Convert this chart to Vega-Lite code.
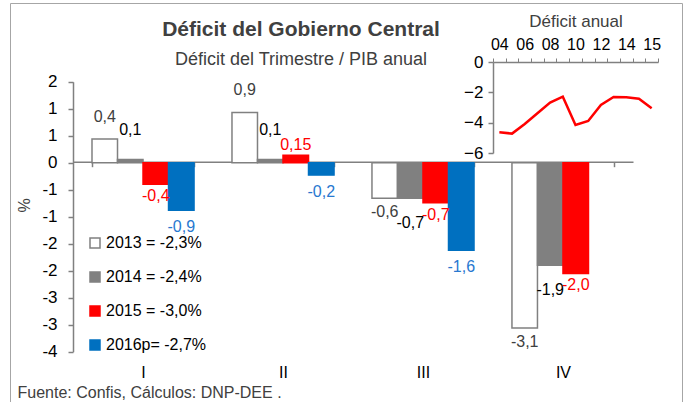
{
  "$schema": "https://vega.github.io/schema/vega-lite/v6.json",
  "autosize": {"type": "none"},
  "width": 672,
  "height": 400,
  "padding": {"left": 10, "top": 3, "right": 4, "bottom": 0},
  "background": "white",
  "config": {
    "font": "Liberation Sans",
    "view": {"stroke": "#A6A6A6", "strokeWidth": 1},
    "text": {"fontSize": 16, "baseline": "middle"}
  },
  "title": {
    "text": "Déficit del Gobierno Central",
    "subtitle": "Déficit del Trimestre / PIB anual",
    "fontSize": 21,
    "fontWeight": "bold",
    "color": "#404040",
    "subtitleFontSize": 18,
    "subtitleColor": "#404040",
    "subtitlePadding": 11,
    "anchor": "middle",
    "frame": "group",
    "dx": -45,
    "offset": -66
  },
  "datasets": {
    "bars": [
      {"trimestre": "I", "serie": "2013 = -2,3%", "valor": 0.44, "etiqueta": "0,4"},
      {"trimestre": "I", "serie": "2014 = -2,4%", "valor": 0.06, "etiqueta": "0,1"},
      {"trimestre": "I", "serie": "2015 = -3,0%", "valor": -0.40, "etiqueta": "-0,4"},
      {"trimestre": "I", "serie": "2016p= -2,7%", "valor": -0.88, "etiqueta": "-0,9"},
      {"trimestre": "II", "serie": "2013 = -2,3%", "valor": 0.93, "etiqueta": "0,9"},
      {"trimestre": "II", "serie": "2014 = -2,4%", "valor": 0.06, "etiqueta": "0,1"},
      {"trimestre": "II", "serie": "2015 = -3,0%", "valor": 0.14, "etiqueta": "0,15"},
      {"trimestre": "II", "serie": "2016p= -2,7%", "valor": -0.23, "etiqueta": "-0,2"},
      {"trimestre": "III", "serie": "2013 = -2,3%", "valor": -0.66, "etiqueta": "-0,6"},
      {"trimestre": "III", "serie": "2014 = -2,4%", "valor": -0.66, "etiqueta": "-0,7"},
      {"trimestre": "III", "serie": "2015 = -3,0%", "valor": -0.74, "etiqueta": "-0,7"},
      {"trimestre": "III", "serie": "2016p= -2,7%", "valor": -1.62, "etiqueta": "-1,6"},
      {"trimestre": "IV", "serie": "2013 = -2,3%", "valor": -3.06, "etiqueta": "-3,1"},
      {"trimestre": "IV", "serie": "2014 = -2,4%", "valor": -1.90, "etiqueta": "-1,9"},
      {"trimestre": "IV", "serie": "2015 = -3,0%", "valor": -2.05, "etiqueta": "-2,0"}
    ],
    "anual": [
      {"anio": 2003, "deficit": -4.63},
      {"anio": 2004, "deficit": -4.72},
      {"anio": 2005, "deficit": -4.09},
      {"anio": 2006, "deficit": -3.38},
      {"anio": 2007, "deficit": -2.68},
      {"anio": 2008, "deficit": -2.29},
      {"anio": 2009, "deficit": -4.15},
      {"anio": 2010, "deficit": -3.89},
      {"anio": 2011, "deficit": -2.83},
      {"anio": 2012, "deficit": -2.31},
      {"anio": 2013, "deficit": -2.33},
      {"anio": 2014, "deficit": -2.42},
      {"anio": 2015, "deficit": -3.05}
    ]
  },
  "layer": [
    {
      "data": {"name": "bars"},
      "encoding": {
        "x": {
          "field": "trimestre",
          "type": "nominal",
          "sort": ["I", "II", "III", "IV"],
          "scale": {"range": [63, 623], "paddingInner": 0.271, "paddingOuter": 0.1357},
          "axis": {
            "orient": "bottom",
            "offset": -241.3,
            "labelAngle": 0,
            "labelFontSize": 16,
            "labelColor": "#000000",
            "labelPadding": 198,
            "domainColor": "#808080",
            "domainWidth": 1.5,
            "tickColor": "#808080",
            "tickWidth": 1.5,
            "tickSize": 5,
            "tickBand": "extent",
            "grid": false,
            "title": "Fuente: Confis, Cálculos: DNP-DEE .",
            "titleFontSize": 16,
            "titleFontWeight": "normal",
            "titleColor": "#404040",
            "titleX": 7,
            "titleY": 236,
            "titleAlign": "left",
            "titleBaseline": "alphabetic"
          }
        },
        "xOffset": {
          "field": "serie",
          "type": "nominal",
          "scale": {"paddingInner": 0, "paddingOuter": 0}
        },
        "y": {
          "field": "valor",
          "type": "quantitative",
          "scale": {"domain": [-3.5, 1.5], "range": [348.7, 78.7], "nice": false, "zero": false},
          "axis": {
            "orient": "left",
            "offset": -63,
            "values": [-3.5, -3, -2.5, -2, -1.5, -1, -0.5, 0, 0.5, 1, 1.5],
            "labelExpr": "datum.value < 0 ? '-' + round(-datum.value) : '' + round(datum.value)",
            "labelFontSize": 17,
            "labelColor": "#000000",
            "labelPadding": 11,
            "domainColor": "#808080",
            "domainWidth": 1.5,
            "tickColor": "#808080",
            "tickWidth": 1.5,
            "tickSize": 5,
            "grid": false,
            "title": "%",
            "titleFontSize": 16,
            "titleFontWeight": "normal",
            "titleColor": "#404040",
            "titleX": -41,
            "titleY": 202,
            "titleAngle": -90
          }
        },
        "text": {"field": "etiqueta", "type": "nominal"},
        "color": {
          "field": "serie",
          "type": "nominal",
          "scale": {
            "domain": ["2013 = -2,3%", "2014 = -2,4%", "2015 = -3,0%", "2016p= -2,7%"],
            "range": ["#404040", "#000000", "#FF0000", "#2878D0"]
          },
          "legend": null
        }
      },
      "layer": [
        {
          "mark": {"type": "bar", "strokeWidth": 1.5},
          "encoding": {
            "color": null,
            "text": null,
            "fill": {
              "field": "serie",
              "type": "nominal",
              "scale": {
                "domain": ["2013 = -2,3%", "2014 = -2,4%", "2015 = -3,0%", "2016p= -2,7%"],
                "range": ["#FFFFFF", "#808080", "#FF0000", "#0070C0"]
              },
              "legend": {
                "orient": "none",
                "legendX": 77,
                "legendY": 232,
                "title": null,
                "padding": 0,
                "symbolType": "square",
                "symbolSize": 100,
                "symbolStrokeWidth": 1.5,
                "labelFontSize": 16,
                "labelColor": "#000000",
                "labelOffset": 3,
                "rowPadding": 18
              }
            },
            "stroke": {
              "field": "serie",
              "type": "nominal",
              "scale": {
                "domain": ["2013 = -2,3%", "2014 = -2,4%", "2015 = -3,0%", "2016p= -2,7%"],
                "range": ["#808080", "#808080", "#FF0000", "#0070C0"]
              },
              "legend": {
                "orient": "none",
                "legendX": 77,
                "legendY": 232,
                "title": null,
                "padding": 0,
                "symbolType": "square",
                "symbolSize": 100,
                "symbolStrokeWidth": 1.5,
                "labelFontSize": 16,
                "labelColor": "#000000",
                "labelOffset": 3,
                "rowPadding": 18
              }
            }
          }
        },
        {
          "transform": [{"filter": "datum.serie == '2013 = -2,3%' && datum.valor >= 0"}],
          "mark": {"type": "text", "dy": -22}
        },
        {
          "transform": [{"filter": "datum.serie == '2013 = -2,3%' && datum.valor < 0"}],
          "mark": {"type": "text", "dy": 14}
        },
        {
          "transform": [{"filter": "datum.serie == '2014 = -2,4%' && datum.valor >= 0"}],
          "mark": {"type": "text", "dy": -29}
        },
        {
          "transform": [{"filter": "datum.serie == '2014 = -2,4%' && datum.valor < 0"}],
          "mark": {"type": "text", "dy": 25}
        },
        {
          "transform": [{"filter": "datum.serie == '2015 = -3,0%' && datum.valor >= 0"}],
          "mark": {"type": "text", "dy": -10}
        },
        {
          "transform": [{"filter": "datum.serie == '2015 = -3,0%' && datum.valor < 0"}],
          "mark": {"type": "text", "dy": 12}
        },
        {
          "transform": [{"filter": "datum.serie == '2016p= -2,7%'"}],
          "mark": {"type": "text", "dy": 17}
        }
      ]
    },
    {
      "data": {"name": "anual"},
      "mark": {"type": "line", "color": "#FF0000", "strokeWidth": 2.5},
      "encoding": {
        "x": {
          "field": "anio",
          "type": "ordinal",
          "scale": {"type": "band", "range": [483, 648], "paddingInner": 0, "paddingOuter": 0},
          "axis": {
            "orient": "top",
            "offset": -59,
            "labelAngle": 0,
            "labelExpr": "datum.value == 2015 ? '15' : (datum.value % 2 == 1 ? slice('0' + (datum.value - 1999), -2) : '')",
            "labelFontSize": 16,
            "labelColor": "#000000",
            "labelPadding": 6,
            "domainColor": "#808080",
            "domainWidth": 1.5,
            "tickColor": "#808080",
            "tickWidth": 1,
            "tickSize": 4,
            "tickBand": "extent",
            "grid": false,
            "title": "Déficit anual",
            "titleFontSize": 17,
            "titleFontWeight": "normal",
            "titleColor": "#404040",
            "titlePadding": 6
          }
        },
        "y": {
          "field": "deficit",
          "type": "quantitative",
          "scale": {"domain": [-6, 0], "range": [150, 59], "nice": false, "zero": false},
          "axis": {
            "orient": "left",
            "offset": -483,
            "values": [-6, -4, -2, 0],
            "labelFontSize": 17,
            "labelColor": "#000000",
            "labelPadding": 5,
            "domainColor": "#808080",
            "domainWidth": 1.5,
            "tickColor": "#808080",
            "tickWidth": 1.5,
            "tickSize": 5,
            "grid": false,
            "title": null
          }
        }
      }
    }
  ],
  "resolve": {
    "scale": {"x": "independent", "y": "independent"},
    "axis": {"x": "independent", "y": "independent"}
  }
}
